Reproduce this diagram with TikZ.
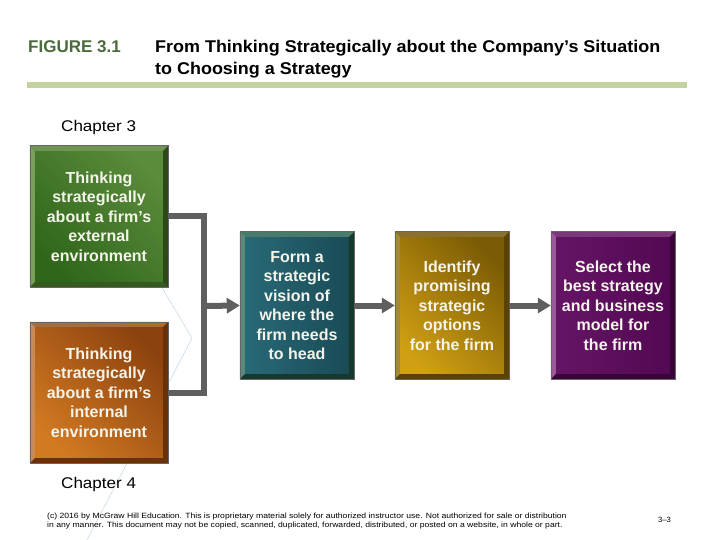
\documentclass[tikz,border=0pt]{standalone}
\usepackage{fontspec}
\usepackage{graphicx}
\setmainfont{Liberation Sans}
\usetikzlibrary{arrows.meta,calc}
\definecolor{figgreen}{HTML}{4A6B3A}
\definecolor{rulegreen}{HTML}{C3D3A0}
\definecolor{arrowgray}{HTML}{5F5F5F}
\definecolor{boxtext}{HTML}{F4F4EA}
\definecolor{faint}{HTML}{C8DCE8}
% green box
\definecolor{gA}{HTML}{5B8B3C}\definecolor{gB}{HTML}{2F661A}
\definecolor{gT}{HTML}{6E9650}\definecolor{gL}{HTML}{7A9E5C}\definecolor{gD}{HTML}{365A1E}\definecolor{gR}{HTML}{2C4A16}
% orange box
\definecolor{oA}{HTML}{8C420F}\definecolor{oB}{HTML}{D27A22}
\definecolor{oT}{HTML}{B06A30}\definecolor{oL}{HTML}{C88A56}\definecolor{oD}{HTML}{6A3008}
% teal box
\definecolor{tA}{HTML}{2A6A78}\definecolor{tB}{HTML}{184A55}
\definecolor{tT}{HTML}{4A7A6A}\definecolor{tL}{HTML}{5A8A7A}\definecolor{tD}{HTML}{17382C}
% gold box
\definecolor{yA}{HTML}{7A5A05}\definecolor{yB}{HTML}{D0A012}
\definecolor{yT}{HTML}{8A7030}\definecolor{yL}{HTML}{A08840}\definecolor{yD}{HTML}{5A4205}
% purple box
\definecolor{pA}{HTML}{661566}\definecolor{pB}{HTML}{520852}
\definecolor{pT}{HTML}{7A3A7A}\definecolor{pL}{HTML}{9A5A9A}\definecolor{pD}{HTML}{380538}
\newcommand\bevelbox[5]{%
  \fill[#2] (#1.north west) -- (#1.north east) -- ([shift={(-5,5)}]#1.north east) -- ([shift={(5,5)}]#1.north west) -- cycle;
  \fill[#3] (#1.north west) -- ([shift={(5,5)}]#1.north west) -- ([shift={(5,-5)}]#1.south west) -- (#1.south west) -- cycle;
  \fill[#4] (#1.south west) -- (#1.south east) -- ([shift={(-5,-5)}]#1.south east) -- ([shift={(5,-5)}]#1.south west) -- cycle;
  \fill[#5] (#1.north east) -- (#1.south east) -- ([shift={(-5,-5)}]#1.south east) -- ([shift={(-5,5)}]#1.north east) -- cycle;
  \draw[black!60, line width=0.6pt] (#1.north west) rectangle (#1.south east);
}
\begin{document}
\begin{tikzpicture}[x=1pt,y=-1pt,
  box/.style={rectangle, inner sep=0pt, align=center, text=boxtext,
    font=\fontsize{16}{19.5}\selectfont\bfseries},
  conn/.style={draw=arrowgray, line width=6pt},
  arr/.style={conn, -{Triangle[length=13pt,width=15pt]}},
  lbl/.style={inner sep=0pt, anchor=base west},
  ttl/.style={lbl, font=\fontsize{17}{20}\selectfont\bfseries},
  chap/.style={lbl, font=\fontsize{15.5}{18}\selectfont},
  fine/.style={lbl, font=\fontsize{7.6}{9}\selectfont}]
\useasboundingbox (0,0) rectangle (720,540);
\fill[white] (0,0) rectangle (720,540);
% faint artifact lines
\draw[faint, line width=0.6pt] (155,276) -- (192,338) -- (87,540);
% header
\node[ttl, text=figgreen] (fig) at (28,53) {FIGURE 3.1};
\node[ttl] (t1) at (155,53) {\scalebox{1.056}[1]{From Thinking Strategically about the Company’s Situation}};
\node[ttl] (t2) at (155,75) {\scalebox{1.056}[1]{to Choosing a Strategy}};
\fill[rulegreen] (27,82) rectangle (687,88);
\node[chap] (ch3) at (61,132) {\scalebox{1.1}[1]{Chapter 3}};
\node[chap] (ch4) at (61,488) {\scalebox{1.1}[1]{Chapter 4}};
% boxes
\node[box, minimum width=138pt, minimum height=141pt,
  top color=gA, bottom color=gB, shading angle=-45] (ext) at (99,216.5)
  {Thinking\\strategically\\about a firm’s\\external\\environment};
\bevelbox{ext}{gT}{gL}{gD}{gR}
\node[box, minimum width=138pt, minimum height=141pt,
  top color=oA, bottom color=oB, shading angle=-45] (int) at (99,392.5)
  {Thinking\\strategically\\about a firm’s\\internal\\environment};
\bevelbox{int}{oT}{oL}{oD}{oD}
\node[box, minimum width=114pt, minimum height=147pt,
  left color=tA, right color=tB] (vis) at (297,305.5)
  {Form a\\strategic\\vision of\\where the\\firm needs\\to head};
\bevelbox{vis}{tT}{tL}{tD}{tD}
\node[box, minimum width=114pt, minimum height=147pt,
  top color=yA, bottom color=yB, shading angle=-45] (opt) at (452,305.5)
  {Identify\\promising\\strategic\\options\\for the firm};
\bevelbox{opt}{yT}{yL}{yD}{yD}
\node[box, minimum width=124pt, minimum height=147pt,
  left color=pA, right color=pB] (sel) at (613,305.5)
  {Select the\\best strategy\\and business\\model for\\the firm};
\bevelbox{sel}{pT}{pL}{pD}{pD}
% connectors
\coordinate (j) at (204,306);
\draw[conn, line join=miter] (ext.east) -| (j) |- (int.east);
\draw[arr] (j) -- (vis.west);
\draw[arr] (vis.east) -- (opt.west);
\draw[arr] (opt.east) -- (sel.west);
% footer
\node[fine] (c1) at (47,518) {\scalebox{1.133}[1]{(c) 2016 by McGraw Hill Education. This is proprietary material solely for authorized instructor use. Not authorized for sale or distribution}};
\node[fine] (c2) at (47,527) {\scalebox{1.133}[1]{in any manner. This document may not be copied, scanned, duplicated, forwarded, distributed, or posted on a website, in whole or part.}};
\node[fine] (pg) at (658,522) {3–3};
\end{tikzpicture}
\end{document}
